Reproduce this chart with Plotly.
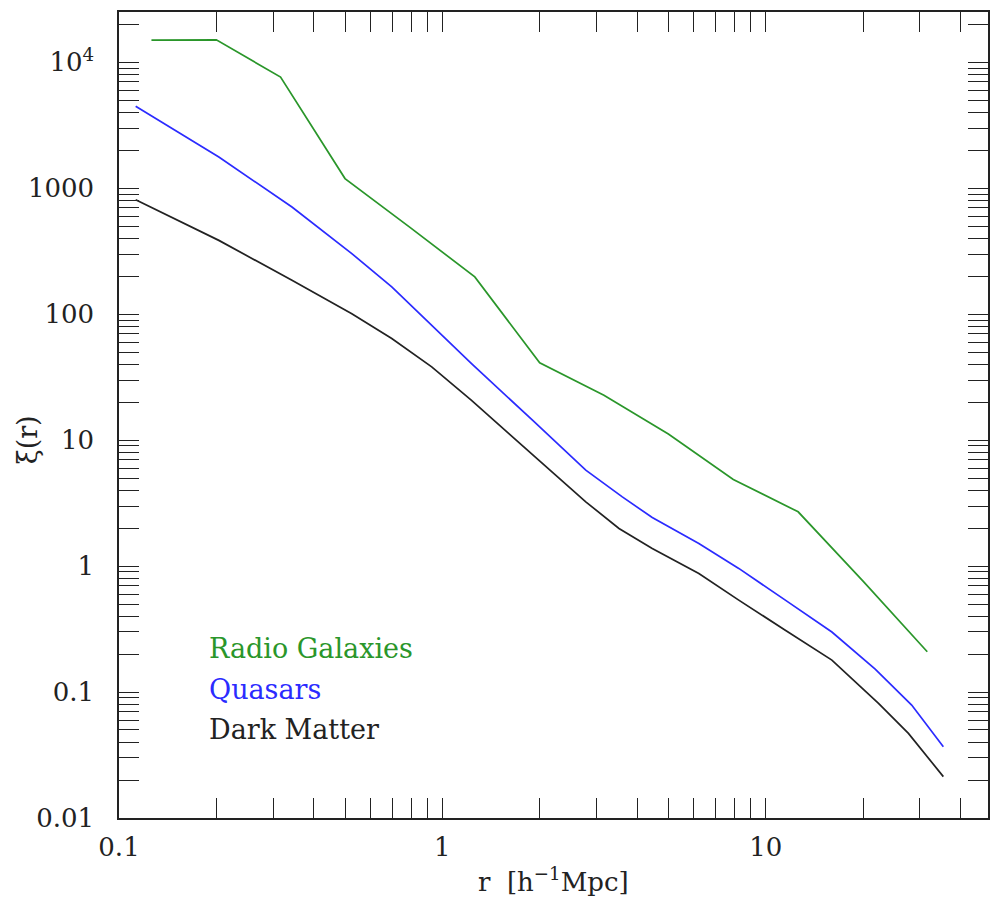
import plotly.graph_objects as go

# Two-point correlation function xi(r) for three tracers
r_radio = [0.126, 0.2, 0.316, 0.5, 0.794, 1.26, 2.0, 3.16, 5.0, 7.94, 12.6, 20.0, 31.6]
xi_radio = [15000, 15100, 7640, 1195, 490, 198, 41.1, 22.7, 11.2, 4.87, 2.70, 0.76, 0.209]

r_qso = [0.1126, 0.2036, 0.3427, 0.5248, 0.6975, 1.231, 1.900, 2.409, 2.777,
         3.602, 4.458, 6.212, 8.254, 11.50, 16.02, 21.81, 28.28, 35.43]
xi_qso = [4480, 1770, 711, 303, 165, 40.6, 14.4, 8.07, 5.78,
          3.55, 2.43, 1.51, 0.959, 0.537, 0.300, 0.152, 0.0789, 0.0368]

r_dm = [0.1126, 0.2036, 0.3427, 0.5248, 0.6975, 0.927, 1.231, 1.717, 2.139, 2.777,
        3.518, 4.458, 6.212, 8.254, 11.50, 16.02, 22.33, 27.63, 35.43]
xi_dm = [813, 386, 186, 101, 64.1, 38.2, 20.7, 9.70, 5.78, 3.24,
         1.99, 1.38, 0.875, 0.537, 0.310, 0.1795, 0.0813, 0.047, 0.0213]

series_names = ["Radio Galaxies", "Quasars", "Dark Matter"]
series_colors = ["#2a962a", "#2b2bff", "#222222"]

# the top decade label is written as a power of ten
y_label_alias = {"10k": "10<sup>4</sup>", "10000": "10<sup>4</sup>",
                 "10,000": "10<sup>4</sup>"}

X_RANGE = [-1, 1.6875]
Y_RANGE = [-2, 4.4]

FONT = "DejaVu Serif"
INK = "#222222"

fig = go.Figure()
for xs, ys, col in zip([r_radio, r_qso, r_dm], [xi_radio, xi_qso, xi_dm], series_colors):
    fig.add_trace(go.Scatter(x=xs, y=ys, mode="lines",
                             line=dict(color=col, width=1.7), showlegend=False))

frame = dict(
    type="log", showgrid=False, zeroline=False,
    showline=True, linecolor=INK, linewidth=1.5, mirror="allticks",
    # one major tick per decade
    ticks="inside", tickwidth=1.3, tickcolor=INK, ticklen=20,
    tickmode="linear", tick0=0, dtick=1, exponentformat="none",
    tickfont=dict(family=FONT, size=26, color=INK),
    # minor ticks at every digit of each decade
    minor=dict(ticks="inside", ticklen=10, tickwidth=1.3,
               tickcolor=INK, dtick="D1", showgrid=False),
)

fig.update_layout(
    xaxis=dict(**frame, range=X_RANGE, ticklabelstandoff=5),
    yaxis=dict(**frame, range=Y_RANGE, ticklabelstandoff=18,
               labelalias=y_label_alias),
    # hidden companion axes sharing the frame, so each main axis
    # is laid out on two overlaid subplots
    xaxis2=dict(type="log", range=X_RANGE, overlaying="x", anchor="y",
                visible=False),
    yaxis2=dict(type="log", range=Y_RANGE, overlaying="y", anchor="x",
                visible=False),
)
for xa, ya in (("x", "y2"), ("x2", "y")):
    fig.add_trace(go.Scatter(x=[1], y=[1], xaxis=xa, yaxis=ya, mode="markers",
                             marker=dict(opacity=0), showlegend=False,
                             hoverinfo="skip"))

# in-plot labels for each curve
label_y = [648, 689, 729]
for name, col, py in zip(series_names, series_colors, label_y):
    fig.add_annotation(
        text=name, xref="paper", yref="paper",
        x=(207 - 119) / 871, y=(818 - py) / 806,
        xanchor="left", yanchor="middle", showarrow=False,
        font=dict(family=FONT, size=27, color=col),
    )

# axis titles
fig.add_annotation(
    text="r  [h<sup>−1</sup>Mpc]", xref="paper", yref="paper",
    x=0.5, y=(818 - 880) / 806, xanchor="center", yanchor="middle",
    showarrow=False, font=dict(family=FONT, size=26, color=INK),
)
fig.add_annotation(
    text="ξ(r)", xref="paper", yref="paper",
    x=(27 - 119) / 871, y=(818 - 440) / 806, xanchor="center", yanchor="middle",
    textangle=-90, showarrow=False, font=dict(family=FONT, size=27, color=INK),
)

fig.update_layout(
    width=993, height=900,
    margin=dict(l=119, r=3, t=12, b=82),
    paper_bgcolor="white", plot_bgcolor="white",
)

fig.write_html("out.html")
